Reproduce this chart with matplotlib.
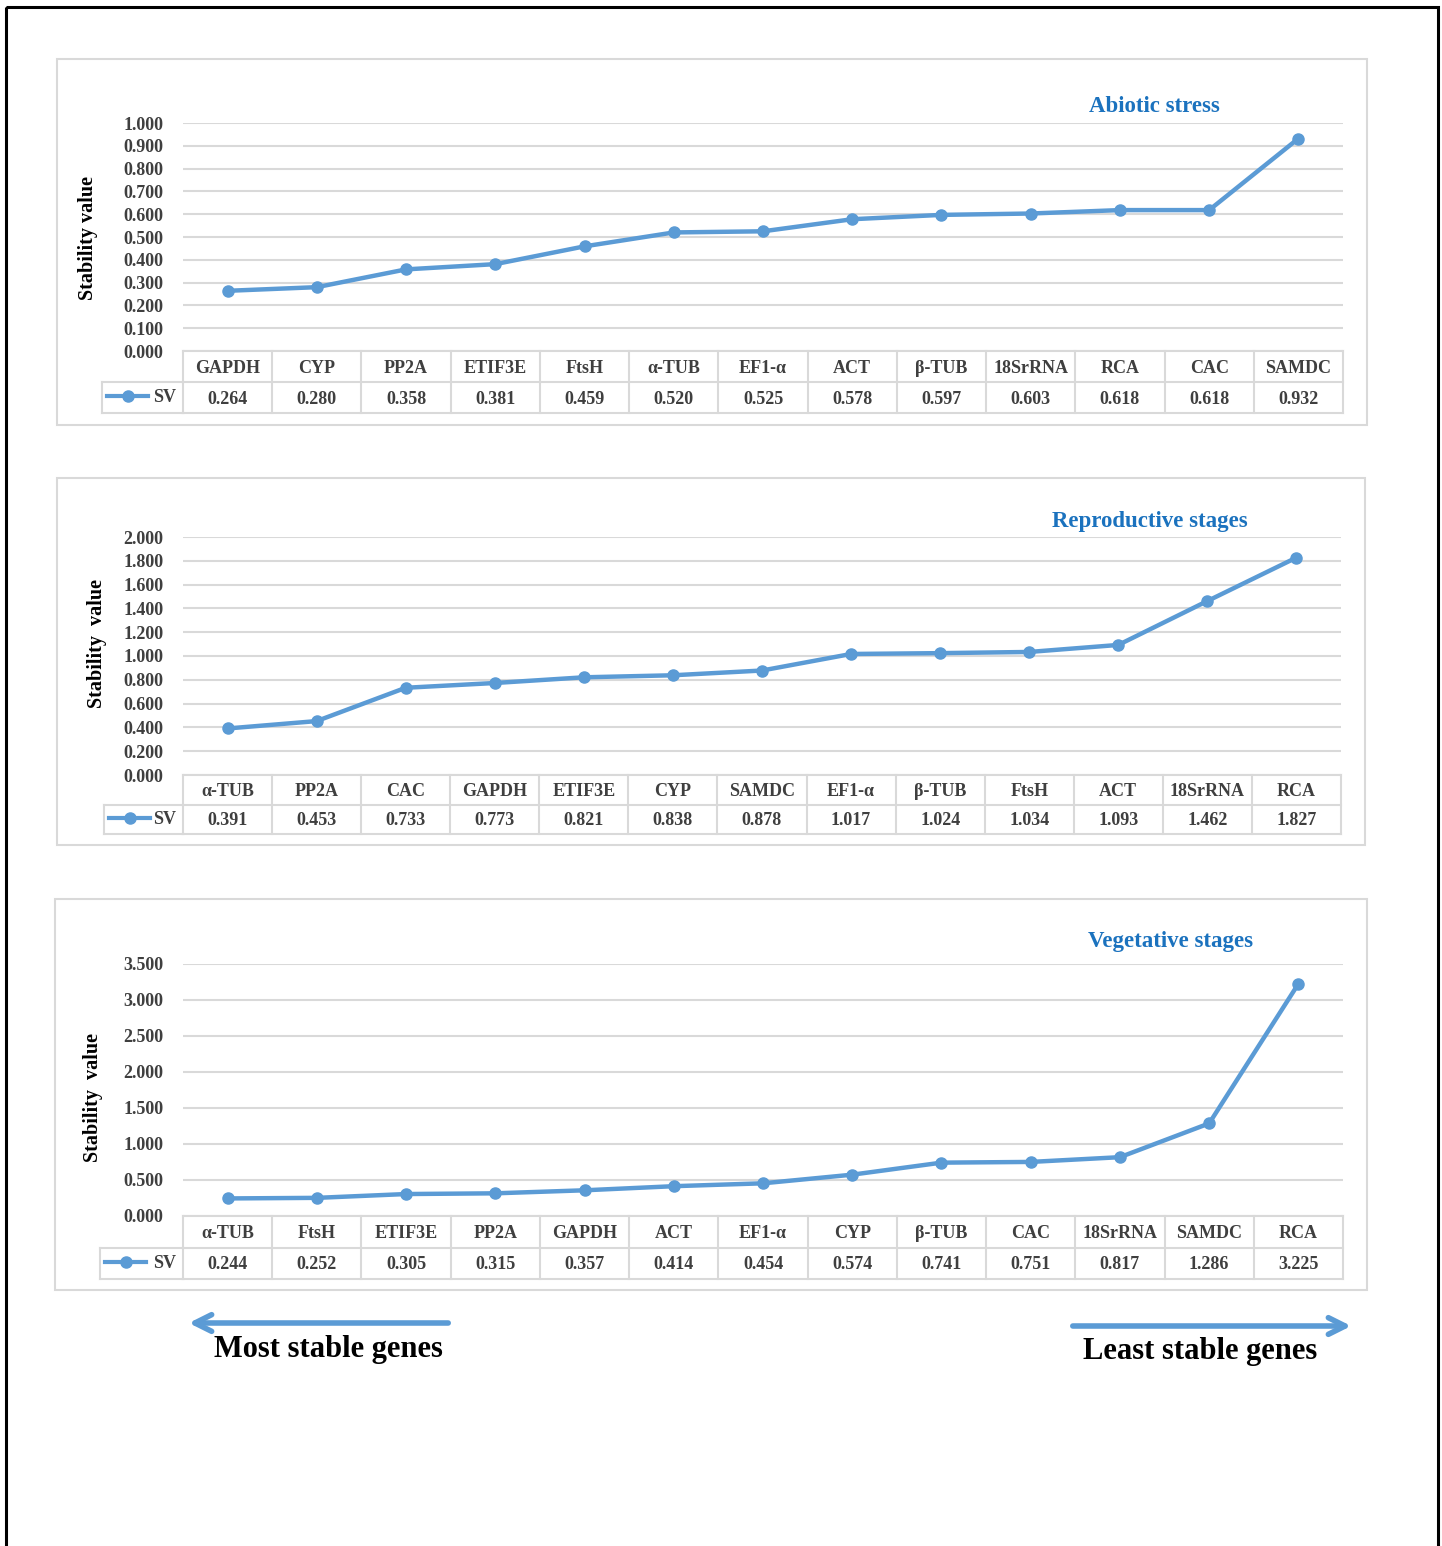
import matplotlib.pyplot as plt
from matplotlib.patches import Rectangle
import numpy as np

plt.rcParams['font.family'] = ['Liberation Serif', 'DejaVu Serif']
plt.rcParams['font.weight'] = 'bold'

# data
abiotic_genes = ['GAPDH', 'CYP', 'PP2A', 'ETIF3E', 'FtsH', 'α-TUB', 'EF1-α', 'ACT', 'β-TUB', '18SrRNA', 'RCA', 'CAC', 'SAMDC']
abiotic_sv = [0.264, 0.280, 0.358, 0.381, 0.459, 0.520, 0.525, 0.578, 0.597, 0.603, 0.618, 0.618, 0.932]

repro_genes = ['α-TUB', 'PP2A', 'CAC', 'GAPDH', 'ETIF3E', 'CYP', 'SAMDC', 'EF1-α', 'β-TUB', 'FtsH', 'ACT', '18SrRNA', 'RCA']
repro_sv = [0.391, 0.453, 0.733, 0.773, 0.821, 0.838, 0.878, 1.017, 1.024, 1.034, 1.093, 1.462, 1.827]

veg_genes = ['α-TUB', 'FtsH', 'ETIF3E', 'PP2A', 'GAPDH', 'ACT', 'EF1-α', 'CYP', 'β-TUB', 'CAC', '18SrRNA', 'SAMDC', 'RCA']
veg_sv = [0.244, 0.252, 0.305, 0.315, 0.357, 0.414, 0.454, 0.574, 0.741, 0.751, 0.817, 1.286, 3.225]

W, H = 1442, 1546
fig = plt.figure(figsize=(W / 100, H / 100), dpi=100)

def box(x0, y0, x1, y1):
    return [x0 / W, 1 - y1 / H, (x1 - x0) / W, (y1 - y0) / H]

BLUE = '#5B9BD5'
TITLE = '#1B72BE'
GRID = '#D9D9D9'
TXT = '#3F3F3F'
FS = 13

# background layer in pixel coords
bg = fig.add_axes([0, 0, 1, 1], zorder=0)
bg.set_xlim(0, W)
bg.set_ylim(H, 0)
bg.axis('off')
bg.add_patch(Rectangle((6, 7), 1432, 1600, fill=False, ec='black', lw=2.2, clip_on=False))

panels = [
    # genes, values, ymax, step, frame, plot box, table rows, legend x0, title pos, ylabel pos
    (abiotic_genes, abiotic_sv, 1.0, 0.1, (57, 59, 1367, 425), (183, 123, 1343, 351), (351, 413), 102, (1154, 106, 'Abiotic stress'), (88, 238, 'Stability value')),
    (repro_genes, repro_sv, 2.0, 0.2, (57, 478, 1365, 845), (183, 537, 1341, 775), (775, 834), 104, (1150, 521, 'Reproductive stages'), (97, 644, 'Stability  value')),
    (veg_genes, veg_sv, 3.5, 0.5, (55, 899, 1367, 1290), (183, 964, 1343, 1216), (1216, 1279), 100, (1170, 941, 'Vegetative stages'), (93, 1097, 'Stability  value')),
]

for genes, vals, ymax, step, frame, pbox, trows, lx0, tpos, ypos in panels:
    fx0, fy0, fx1, fy1 = frame
    bg.add_patch(Rectangle((fx0, fy0), fx1 - fx0, fy1 - fy0, fill=False, ec=GRID, lw=1.5))
    bg.text(tpos[0], tpos[1], tpos[2], color=TITLE, fontsize=16.5, ha='center', va='center', fontweight='bold')
    bg.text(ypos[0], ypos[1], ypos[2], color='black', fontsize=14.5, ha='center', va='center',
            rotation=90, fontweight='bold')

    x0, y0, x1, y1 = pbox
    ax = fig.add_axes(box(x0, y0, x1, y1), zorder=2)
    ax.patch.set_alpha(0)
    x = np.arange(len(genes))
    ax.plot(x, vals, color=BLUE, lw=3.2, marker='o', ms=8, zorder=3)
    ax.set_xlim(-0.5, len(genes) - 0.5)
    ax.set_ylim(0, ymax)
    ticks = np.arange(0, ymax + step / 2, step)
    ax.set_yticks(ticks)
    ax.set_yticklabels(['%.3f' % t for t in ticks], color=TXT, fontsize=FS, fontweight='bold')
    ax.tick_params(axis='y', length=0, pad=14)
    ax.set_xticks([])
    ax.grid(axis='y', color=GRID, lw=1.5)
    for s in ax.spines.values():
        s.set_visible(False)

    # data table under the plot
    r0, r1 = trows
    tax = fig.add_axes(box(x0, r0, x1, r1), zorder=2)
    tax.set_xlim(-0.5, len(genes) - 0.5)
    tax.set_ylim(0, 2)
    tax.axis('off')
    n = len(genes)
    cw = (x1 - x0) / n
    lw_data = (x0 - lx0) / cw
    for i in range(n + 1):
        tax.plot([i - 0.5, i - 0.5], [0, 2], color=GRID, lw=1.5, clip_on=False)
    for yy in [0, 1, 2]:
        tax.plot([-0.5, n - 0.5], [yy, yy], color=GRID, lw=1.5, clip_on=False)
    lx = -0.5 - lw_data
    tax.plot([lx, -0.5], [0, 0], color=GRID, lw=1.5, clip_on=False)
    tax.plot([lx, -0.5], [1, 1], color=GRID, lw=1.5, clip_on=False)
    tax.plot([lx, lx], [0, 1], color=GRID, lw=1.5, clip_on=False)
    for i, (g, v) in enumerate(zip(genes, vals)):
        tax.text(i, 1.45, g, ha='center', va='center', fontsize=FS, color=TXT, fontweight='bold')
        tax.text(i, 0.45, '%.3f' % v, ha='center', va='center', fontsize=FS, color=TXT, fontweight='bold')
    # legend key
    tax.plot([lx + 0.06, lx + 0.52], [0.55, 0.55], color=BLUE, lw=3, clip_on=False)
    tax.plot([lx + 0.29], [0.55], color=BLUE, marker='o', ms=8, clip_on=False)
    tax.text(-0.58, 0.5, 'SV', ha='right', va='center', fontsize=FS, color=TXT, fontweight='bold')

# direction arrows
bg.annotate('', xy=(186, 1323), xytext=(451, 1323),
            arrowprops=dict(arrowstyle='->', lw=4, color=BLUE, mutation_scale=30))
bg.annotate('', xy=(1354, 1326), xytext=(1070, 1326),
            arrowprops=dict(arrowstyle='->', lw=4, color=BLUE, mutation_scale=30))
bg.text(328, 1350, 'Most stable genes', ha='center', va='center', fontsize=22, fontweight='bold', color='black')
bg.text(1200, 1351, 'Least stable genes', ha='center', va='center', fontsize=22, fontweight='bold', color='black')

fig.savefig('out.png', dpi=100)
